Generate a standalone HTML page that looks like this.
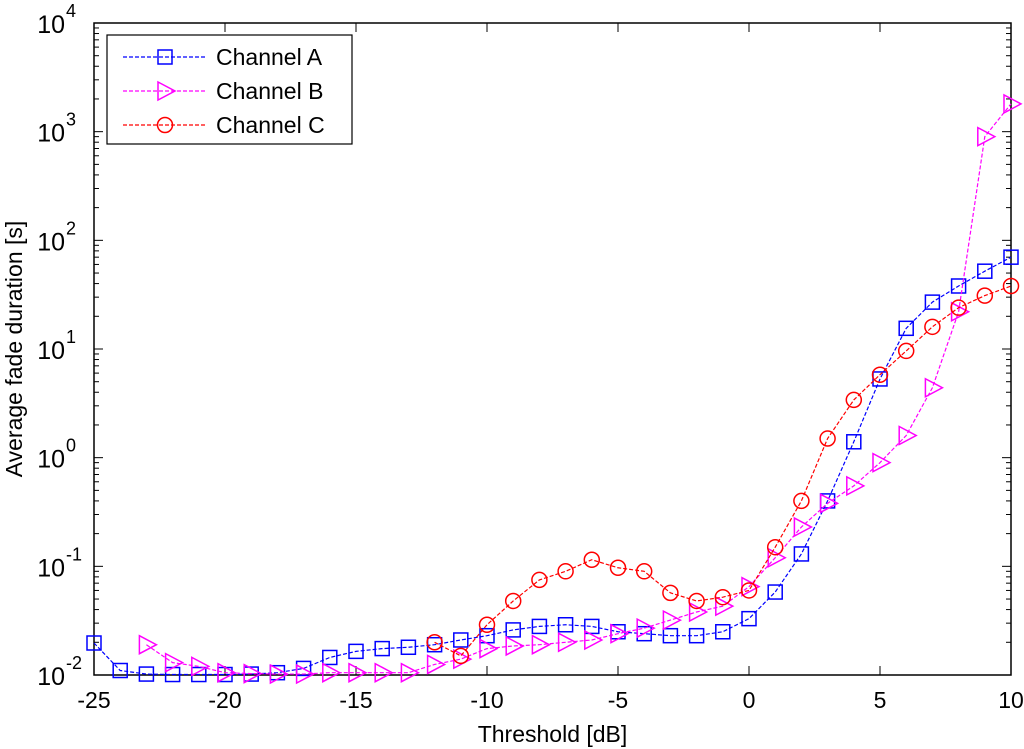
<!DOCTYPE html>
<html><head><meta charset="utf-8"><style>
body{margin:0;background:#fff;}
svg{display:block;font-family:"Liberation Sans",Arial,sans-serif;}
</style></head><body>
<svg id="chart" width="1024" height="749"></svg>
<script>
const xValues=[-25,-24,-23,-22,-21,-20,-19,-18,-17,-16,-15,-14,-13,-12,-11,-10,-9,-8,-7,-6,-5,-4,-3,-2,-1,0,1,2,3,4,5,6,7,8,9,10];
const channelA=[0.0197,0.011,0.0102,0.0101,0.0101,0.0101,0.0102,0.0105,0.0115,0.0145,0.0165,0.0175,0.018,0.019,0.021,0.023,0.026,0.028,0.029,0.028,0.025,0.024,0.023,0.023,0.025,0.033,0.058,0.13,0.4,1.4,5.3,15.5,27,38,52,70];
const channelBx=[-23,-22,-21,-20,-19,-18,-17,-16,-15,-14,-13,-12,-11,-10,-9,-8,-7,-6,-5,-4,-3,-2,-1,0,1,2,3,4,5,6,7,8,9,10];
const channelB=[0.019,0.013,0.012,0.0105,0.0103,0.0102,0.0102,0.0105,0.0105,0.0105,0.0105,0.0125,0.014,0.0175,0.0185,0.019,0.02,0.021,0.024,0.027,0.032,0.038,0.043,0.065,0.12,0.23,0.38,0.55,0.9,1.6,4.4,22,900,1800];
const channelCx=[-12,-11,-10,-9,-8,-7,-6,-5,-4,-3,-2,-1,0,1,2,3,4,5,6,7,8,9,10];
const channelC=[0.02,0.015,0.029,0.048,0.075,0.09,0.115,0.097,0.09,0.057,0.048,0.052,0.06,0.15,0.4,1.5,3.4,5.8,9.6,16,24,31,38];
const xTicks=[-25,-20,-15,-10,-5,0,5,10];
const yExps=[-2,-1,0,1,2,3,4];
const legendLabels=["Channel A","Channel B","Channel C"];

const L=94,R=1011,T=23,B=675;
const sx=v=>L+(v+25)/35*(R-L);
const sy=v=>B-(Math.log10(v)+2)/6*(B-T);
const svg=document.getElementById('chart');
const NS='http://www.w3.org/2000/svg';
function mk(tag,attrs,parent){const e=document.createElementNS(NS,tag);for(const k in attrs)e.setAttribute(k,attrs[k]);(parent||svg).appendChild(e);return e;}

const frame=mk('rect',{x:L,y:T,width:R-L,height:B-T,fill:'none',stroke:'#000','stroke-width':1.5});



xTicks.forEach(t=>{
  const x=sx(t);
  mk('line',{x1:x,y1:B,x2:x,y2:B-9,stroke:'#000'});
  mk('line',{x1:x,y1:T,x2:x,y2:T+9,stroke:'#000'});
  const tx=mk('text',{x:x,y:B+33,'font-size':23,'text-anchor':'middle'});
  tx.textContent=t;
  
  
});
yExps.forEach(e=>{
  const y=sy(Math.pow(10,e));
  mk('line',{x1:L,y1:y,x2:L+9,y2:y,stroke:'#000'});
  mk('line',{x1:R,y1:y,x2:R-9,y2:y,stroke:'#000'});
  if(e<4){for(let m=2;m<10;m++){const ym=sy(m*Math.pow(10,e));
    mk('line',{x1:L,y1:ym,x2:L+5,y2:ym,stroke:'#000'});
    mk('line',{x1:R,y1:ym,x2:R-5,y2:ym,stroke:'#000'});}}
  const tx=mk('text',{x:L-29,y:y+10,'font-size':25,'text-anchor':'end'});
  tx.textContent='10';
  
  
  const sp=mk('text',{x:L-28,y:y-6,'font-size':18,'text-anchor':'start'});
  sp.textContent=String(e);
  
  
});
const xt=mk('text',{x:(L+R)/2,y:742,'font-size':23,'text-anchor':'middle'});
xt.textContent='Threshold [dB]';


const yt=mk('text',{x:0,y:0,'font-size':23,'text-anchor':'middle',transform:'translate(22,'+((T+B)/2)+') rotate(-90)'});
yt.textContent='Average fade duration [s]';



function marker(kind,x,y,color,g){
  if(kind==='sq')mk('rect',{x:x-7,y:y-7,width:14,height:14,fill:'none',stroke:color,'stroke-width':1.5},g);
  else if(kind==='tri')mk('polygon',{points:`${x-7},${y-9} ${x+10},${y} ${x-7},${y+9}`,fill:'none',stroke:color,'stroke-width':1.5},g);
  else mk('circle',{cx:x,cy:y,r:7.5,fill:'none',stroke:color,'stroke-width':1.5},g);
}
function series(xs,ys,color,kind,name){
  const g=mk('g',{});
  
  
  mk('polyline',{points:xs.map((x,i)=>sx(x)+','+sy(ys[i])).join(' '),fill:'none',stroke:color,'stroke-width':1.2,'stroke-dasharray':'4,2'},g);
  xs.forEach((x,i)=>marker(kind,sx(x),sy(ys[i]),color,g));
}
series(xValues,channelA,'#0000ff','sq','series-channel-a');
series(channelBx,channelB,'#ff00ff','tri','series-channel-b');
series(channelCx,channelC,'#ff0000','circ','series-channel-c');

const lg=mk('g',{});


mk('rect',{x:107,y:35,width:245,height:109,fill:'#fff',stroke:'#000','stroke-width':1.2},lg);
const cols=['#0000ff','#ff00ff','#ff0000'],kinds=['sq','tri','circ'];
legendLabels.forEach((lab,i)=>{
  const y=57+i*34;
  const e=mk('g',{},lg);
  
  
  mk('line',{x1:123,y1:y,x2:207,y2:y,stroke:cols[i],'stroke-width':1.2,'stroke-dasharray':'4,2'},e);
  marker(kinds[i],165,y,cols[i],e);
  const t=mk('text',{x:216,y:y+8,'font-size':23},e);
  t.textContent=lab;
});
</script>
</body></html>
